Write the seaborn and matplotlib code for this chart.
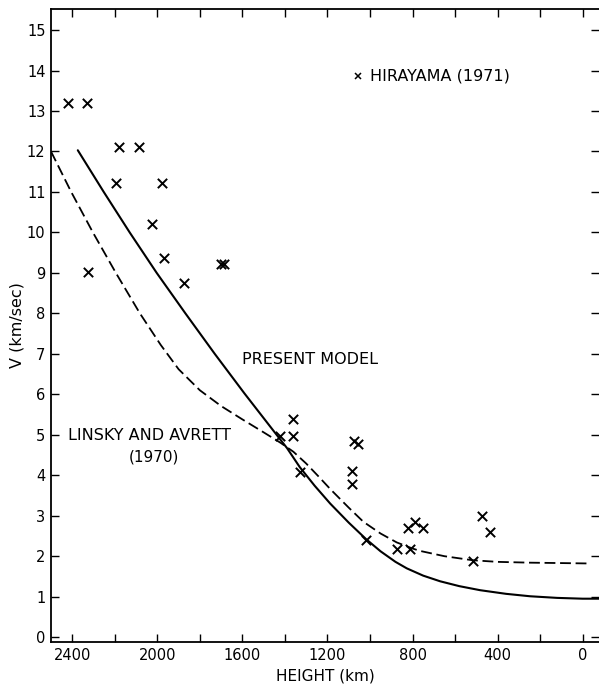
import numpy as np
import pandas as pd
import matplotlib
matplotlib.use("Agg")
import matplotlib.pyplot as plt
import seaborn as sns

# present model (solid curve), height in km, velocity in km/sec
model_height = [2374, 2252, 2130, 2003, 1868, 1730, 1590, 1448, 1390, 1330, 1260, 1187,
                1100, 1018, 950, 880, 827, 750, 670, 580, 482, 360, 247, 120, 0, -80]
model_v = [12.03, 11.0, 10.0, 9.0, 8.0, 7.0, 6.02, 5.06, 4.67, 4.2, 3.74, 3.3,
           2.83, 2.42, 2.12, 1.86, 1.70, 1.52, 1.38, 1.26, 1.16, 1.07, 1.01, 0.97, 0.95, 0.95]

# Linsky and Avrett (1970), dashed curve
linsky_height = [2500, 2405, 2303, 2195, 2082, 1984, 1900, 1800, 1700, 1600, 1500, 1420,
                 1360, 1300, 1240, 1187, 1100, 1031, 950, 874, 800, 764, 650, 517, 400,
                 247, 100, -35]
linsky_v = [12.0, 11.0, 10.0, 9.0, 8.0, 7.22, 6.62, 6.1, 5.71, 5.38, 5.06, 4.8,
            4.58, 4.29, 3.96, 3.66, 3.2, 2.85, 2.56, 2.34, 2.19, 2.13, 2.0, 1.9, 1.86,
            1.84, 1.83, 1.82]

# Hirayama (1971) observations
hira_height = [2419, 2330, 2178, 2086, 2192, 1979, 2026, 1970, 2325, 1876, 1700, 1685,
               1422, 1362, 1362, 1328, 1074, 1057, 1085, 1085, 1018, 871, 811, 822,
               788, 753, 517, 473, 435]
hira_v = [13.19, 13.19, 12.12, 12.12, 11.23, 11.23, 10.2, 9.37, 9.03, 8.76, 9.23, 9.22,
          4.97, 5.39, 4.97, 4.09, 4.85, 4.77, 4.11, 3.78, 2.40, 2.17, 2.17, 2.69,
          2.85, 2.70, 1.89, 2.99, 2.59]

x_major = [2400, 2000, 1600, 1200, 800, 400, 0]
y_ticks = list(range(0, 16))

sns.set_theme(style="white")
plt.rcParams['font.family'] = ['DejaVu Sans']

model_df = pd.DataFrame({"height": model_height, "v": model_v})
linsky_df = pd.DataFrame({"height": linsky_height, "v": linsky_v})
hira_df = pd.DataFrame({"height": hira_height, "v": hira_v})

fig = plt.figure(figsize=(5.99, 6.88), dpi=100)
ax = fig.add_axes([51 / 599, 46 / 688, 548 / 599, 633 / 688])

sns.lineplot(data=model_df, x="height", y="v", ax=ax, color="black",
             linewidth=1.5, sort=False)
sns.lineplot(data=linsky_df, x="height", y="v", ax=ax, color="black",
             linewidth=1.3, sort=False)
ax.lines[-1].set_dashes((6, 2.6))
sns.scatterplot(data=hira_df, x="height", y="v", ax=ax, marker="x", color="black",
                s=45, linewidth=1.4)

ax.set_xlim(2500, -77)
ax.set_ylim(-0.12, 15.52)

ax.set_xticks(x_major)
ax.set_xticklabels([str(t) for t in x_major])
ax.set_xticks(list(range(2200, -1, -400)), minor=True)
ax.set_yticks(y_ticks)
ax.set_yticklabels([str(t) for t in y_ticks])

ax.tick_params(axis="both", which="both", direction="in", length=6, width=1,
               color="black", top=True, right=True, bottom=True, left=True,
               labelsize=10.5, labelcolor="black", pad=4)

for side in ["left", "bottom", "top"]:
    ax.spines[side].set_color("black")
    ax.spines[side].set_linewidth(1.3)
ax.spines["right"].set_visible(False)

ax.set_xlabel("HEIGHT (km)", fontsize=11, color="black", labelpad=4)
ax.set_ylabel("V (km/sec)", fontsize=11.5, color="black", labelpad=2)

ax.text(1602, 6.87, "PRESENT MODEL", fontsize=11.5, va="center", ha="left", color="black")
ax.text(2422, 4.99, "LINSKY AND AVRETT", fontsize=11.5, va="center", ha="left", color="black")
ax.text(2014, 4.45, "(1970)", fontsize=11, va="center", ha="center", color="black")
ax.plot([1054], [13.86], marker="x", color="black", markersize=5, markeredgewidth=1.1)
ax.text(1000, 13.86, "HIRAYAMA (1971)", fontsize=11.5, va="center", ha="left", color="black")

fig.savefig("out.png", dpi=100)
